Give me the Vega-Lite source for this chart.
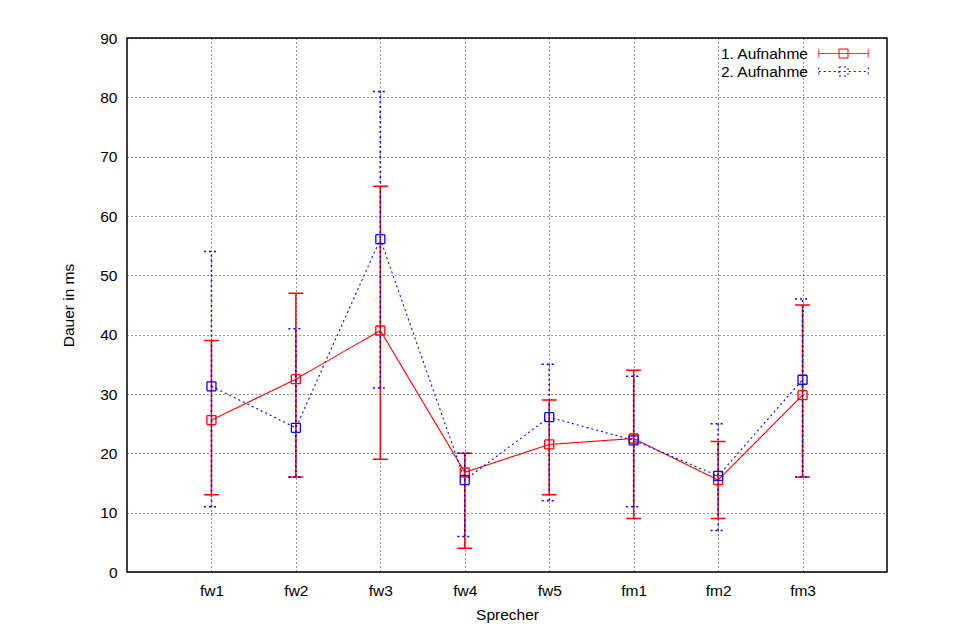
{
  "$schema": "https://vega.github.io/schema/vega-lite/v6.json",
  "width": 760,
  "height": 534,
  "autosize": {"type": "none"},
  "padding": {"left": 127, "top": 38, "right": 66, "bottom": 62},
  "background": "white",
  "config": {
    "font": "Liberation Sans",
    "view": {"stroke": "black", "strokeWidth": 1.5},
    "axis": {
      "labelFontSize": 15.5,
      "titleFontSize": 15.5,
      "labelColor": "black",
      "titleColor": "black",
      "titleFontWeight": "normal",
      "domain": false,
      "ticks": false,
      "gridColor": "black",
      "gridDash": [1, 3],
      "gridOpacity": 0.85,
      "gridWidth": 1
    }
  },
  "data": {
    "values": [
      {"sprecher": "fw1", "aufnahme": "1. Aufnahme", "mittel": 25.6, "min": 13, "max": 39},
      {"sprecher": "fw2", "aufnahme": "1. Aufnahme", "mittel": 32.5, "min": 16, "max": 47},
      {"sprecher": "fw3", "aufnahme": "1. Aufnahme", "mittel": 40.7, "min": 19, "max": 65},
      {"sprecher": "fw4", "aufnahme": "1. Aufnahme", "mittel": 16.8, "min": 4, "max": 20},
      {"sprecher": "fw5", "aufnahme": "1. Aufnahme", "mittel": 21.5, "min": 13, "max": 29},
      {"sprecher": "fm1", "aufnahme": "1. Aufnahme", "mittel": 22.5, "min": 9, "max": 34},
      {"sprecher": "fm2", "aufnahme": "1. Aufnahme", "mittel": 15.5, "min": 9, "max": 22},
      {"sprecher": "fm3", "aufnahme": "1. Aufnahme", "mittel": 29.8, "min": 16, "max": 45},
      {"sprecher": "fw1", "aufnahme": "2. Aufnahme", "mittel": 31.3, "min": 11, "max": 54},
      {"sprecher": "fw2", "aufnahme": "2. Aufnahme", "mittel": 24.3, "min": 16, "max": 41},
      {"sprecher": "fw3", "aufnahme": "2. Aufnahme", "mittel": 56.1, "min": 31, "max": 81},
      {"sprecher": "fw4", "aufnahme": "2. Aufnahme", "mittel": 15.5, "min": 6, "max": 20},
      {"sprecher": "fw5", "aufnahme": "2. Aufnahme", "mittel": 26.1, "min": 12, "max": 35},
      {"sprecher": "fm1", "aufnahme": "2. Aufnahme", "mittel": 22.2, "min": 11, "max": 33},
      {"sprecher": "fm2", "aufnahme": "2. Aufnahme", "mittel": 16.2, "min": 7, "max": 25},
      {"sprecher": "fm3", "aufnahme": "2. Aufnahme", "mittel": 32.4, "min": 16, "max": 46}
    ]
  },
  "encoding": {
    "x": {
      "field": "sprecher",
      "type": "ordinal",
      "sort": ["fw1", "fw2", "fw3", "fw4", "fw5", "fm1", "fm2", "fm3"],
      "scale": {"type": "point", "padding": 1},
      "axis": {"orient": "bottom", "grid": true, "labelAngle": 0, "labelPadding": 11, "title": "Sprecher", "titlePadding": 9}
    },
    "color": {
      "field": "aufnahme",
      "type": "nominal",
      "scale": {"domain": ["1. Aufnahme", "2. Aufnahme"], "range": ["#ff0000", "#0000ff"]},
      "legend": {
        "title": null,
        "orient": "none",
        "legendX": 707,
        "legendY": 6,
        "padding": 0,
        "labelFontSize": 15.5,
        "labelColor": "black",
        "labelAlign": "right",
        "labelOffset": -45,
        "symbolType": "M-2.75,0H2.75M-2.75,-0.45V0.45M2.75,-0.45V0.45M-0.5,-0.5H0.5V0.5H-0.5Z",
        "symbolSize": 324,
        "symbolStrokeWidth": 1,
        "symbolFillColor": "transparent",
        "rowPadding": 0
      }
    },
    "strokeDash": {
      "field": "aufnahme",
      "type": "nominal",
      "scale": {"domain": ["1. Aufnahme", "2. Aufnahme"], "range": [[1, 0], [2, 3]]},
      "legend": {
        "title": null,
        "orient": "none",
        "legendX": 707,
        "legendY": 6,
        "padding": 0,
        "labelFontSize": 15.5,
        "labelColor": "black",
        "labelAlign": "right",
        "labelOffset": -45,
        "symbolType": "M-2.75,0H2.75M-2.75,-0.45V0.45M2.75,-0.45V0.45M-0.5,-0.5H0.5V0.5H-0.5Z",
        "symbolSize": 324,
        "symbolStrokeWidth": 1,
        "symbolFillColor": "transparent",
        "rowPadding": 0
      }
    }
  },
  "layer": [
    {
      "mark": {"type": "rule", "strokeWidth": 1.5},
      "encoding": {
        "y": {
          "field": "min",
          "type": "quantitative",
          "scale": {"domain": [0, 90], "nice": false, "zero": false},
          "axis": {"orient": "left", "values": [0, 10, 20, 30, 40, 50, 60, 70, 80, 90], "grid": true, "labelPadding": 10, "title": "Dauer in ms", "titlePadding": 23}
        },
        "y2": {"field": "max"}
      }
    },
    {
      "mark": {"type": "point", "shape": "M-1,0H1", "size": 225, "filled": false, "strokeWidth": 1.5, "opacity": 1},
      "encoding": {
        "y": {"field": "min", "type": "quantitative"},
        "stroke": {"field": "aufnahme", "type": "nominal", "scale": {"domain": ["1. Aufnahme", "2. Aufnahme"], "range": ["#ff0000", "#0000ff"]}, "legend": null}
      }
    },
    {
      "mark": {"type": "point", "shape": "M-1,0H1", "size": 225, "filled": false, "strokeWidth": 1.5, "opacity": 1},
      "encoding": {
        "y": {"field": "max", "type": "quantitative"},
        "stroke": {"field": "aufnahme", "type": "nominal", "scale": {"domain": ["1. Aufnahme", "2. Aufnahme"], "range": ["#ff0000", "#0000ff"]}, "legend": null}
      }
    },
    {
      "mark": {"type": "line", "strokeWidth": 1.1},
      "encoding": {
        "y": {"field": "mittel", "type": "quantitative"},
        "detail": {"field": "aufnahme"}
      }
    },
    {
      "mark": {"type": "point", "shape": "square", "size": 81, "filled": false, "strokeWidth": 1.3, "opacity": 1},
      "encoding": {
        "y": {"field": "mittel", "type": "quantitative"},
        "strokeDash": {"value": [1, 0]}
      }
    }
  ]
}
